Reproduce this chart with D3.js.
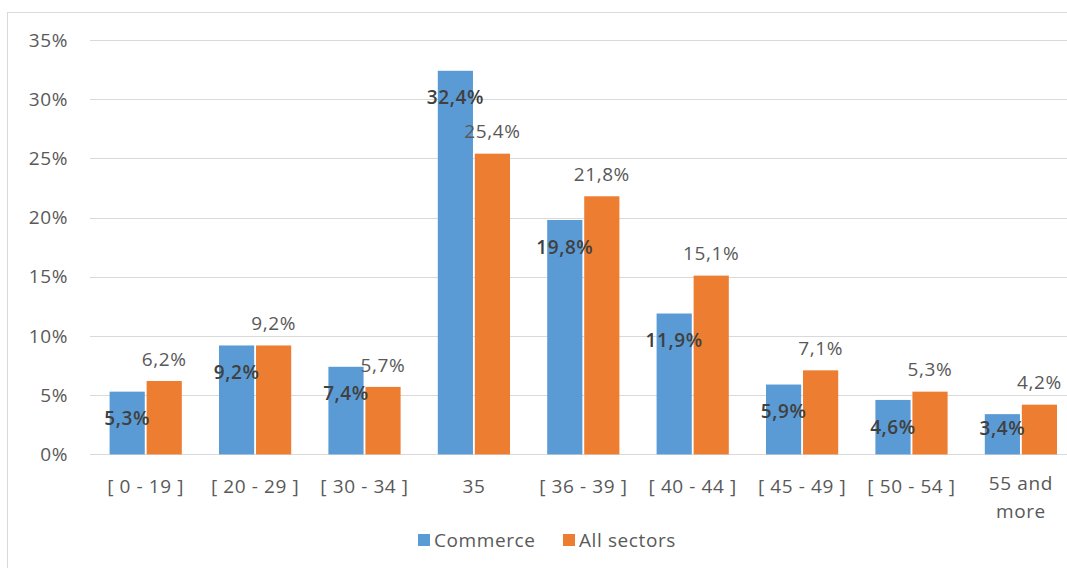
<!DOCTYPE html>
<html>
<head>
<meta charset="utf-8">
<script src="https://cdn.jsdelivr.net/npm/d3@7"></script>
<style>
  body { margin: 0; background: #fff; }
  svg { display: block; font-family: "Open Sans", "Noto Sans", sans-serif; }
  text { letter-spacing: 0.6px; }
</style>
</head>
<body>
<div id="chart"></div>
<script>
// data
const categories = ["[ 0 - 19 ]", "[ 20 - 29 ]", "[ 30 - 34 ]", "35", "[ 36 - 39 ]",
                    "[ 40 - 44 ]", "[ 45 - 49 ]", "[ 50 - 54 ]", "55 and more"];
const seriesNames = ["Commerce", "All sectors"];
const commerce = [5.3, 9.2, 7.4, 32.4, 19.8, 11.9, 5.9, 4.6, 3.4];
const allSectors = [6.2, 9.2, 5.7, 25.4, 21.8, 15.1, 7.1, 5.3, 4.2];
const yTicks = [0, 5, 10, 15, 20, 25, 30, 35];
const colors = ["#5B9BD5", "#ED7D31"];

const W = 1067, H = 568;
const FS = "19px";
const svg = d3.select("#chart").append("svg")
    .attr("width", W)
    .attr("height", H);

// chart frame
svg.append("rect")
    .attr("x", 7.5).attr("y", 12.5)
    .attr("width", W + 20).attr("height", H + 20)
    .attr("fill", "none")
    .attr("stroke", "#d9d9d9");

const x0 = d3.scaleBand()
    .domain(categories)
    .range([91, 1075.6])
    .paddingInner(0.34)
    .paddingOuter(0.17);

const x1 = d3.scaleBand()
    .domain(seriesNames)
    .range([0, x0.bandwidth()])
    .paddingInner(0.05);

const y = d3.scaleLinear().domain([0, 35]).range([454.4, 40]);

// gridlines
svg.append("g").selectAll("line")
    .data(yTicks)
    .join("line")
    .attr("x1", 90).attr("x2", W)
    .attr("y1", d => Math.round(y(d)) + 0.5)
    .attr("y2", d => Math.round(y(d)) + 0.5)
    .attr("stroke", "#d9d9d9");

// y axis labels
const yAxis = d3.axisLeft(y).tickValues(yTicks).tickFormat(d => d + "%").tickSize(0).tickPadding(0);
const yg = svg.append("g")
    .attr("transform", "translate(68,0)")
    .call(yAxis);
yg.select(".domain").remove();
yg.selectAll("text")
    .attr("fill", "#595959")
    .style("font-size", FS)
    .style("font-family", "'Open Sans', sans-serif");

// x axis labels
const xAxis = d3.axisBottom(x0).tickSize(0).tickPadding(0);
const xg = svg.append("g")
    .attr("transform", "translate(0,479)")
    .call(xAxis);
xg.select(".domain").remove();
xg.selectAll("text")
    .attr("fill", "#595959")
    .style("font-size", FS)
    .style("font-family", "'Open Sans', sans-serif")
    .each(function(d) {
        const t = d3.select(this);
        if (d === "55 and more") {
            t.text(null);
            t.append("tspan").attr("x", 0).attr("dy", "0.56em").text("55 and");
            t.append("tspan").attr("x", 0).attr("dy", "1.5em").text("more");
        }
    });

const rows = categories.map((c, i) => ({cat: c, values: [commerce[i], allSectors[i]]}));

const groups = svg.append("g").selectAll("g")
    .data(rows)
    .join("g")
    .attr("transform", d => "translate(" + x0(d.cat) + ",0)");

groups.selectAll("rect")
    .data(d => d.values.map((v, j) => ({name: seriesNames[j], value: v, j: j})))
    .join("rect")
    .attr("x", d => x1(d.name))
    .attr("width", x1.bandwidth())
    .attr("y", d => y(d.value))
    .attr("height", d => y(0) - y(d.value))
    .attr("fill", d => colors[d.j]);

const fmt = v => v.toFixed(1).replace(".", ",") + "%";

// Commerce labels: inside the bar, near the top
groups.append("text")
    .attr("x", x1("Commerce") + x1.bandwidth() / 2)
    .attr("y", d => Math.min(y(d.values[0]) + 27, y(0) - 26))
    .attr("dy", "0.35em")
    .attr("text-anchor", "middle")
    .attr("fill", "#404040")
    .style("font-size", FS)
    .style("font-weight", "600")
    .text(d => fmt(d.values[0]));

// All sectors labels: above the bar
groups.append("text")
    .attr("x", x1("All sectors") + x1.bandwidth() / 2)
    .attr("y", d => y(d.values[1]) - 22)
    .attr("dy", "0.35em")
    .attr("text-anchor", "middle")
    .attr("fill", "#595959")
    .style("font-size", FS)
    .text(d => fmt(d.values[1]));

// legend
const legend = svg.append("g").attr("transform", "translate(418,540)");
const items = legend.selectAll("g")
    .data(seriesNames)
    .join("g")
    .attr("transform", (d, i) => "translate(" + (i * 145) + ",0)");
items.append("rect")
    .attr("x", 0).attr("y", -6)
    .attr("width", 12).attr("height", 12)
    .attr("fill", (d, i) => colors[i]);
items.append("text")
    .attr("x", 16)
    .attr("dy", "0.35em")
    .attr("fill", "#595959")
    .style("font-size", FS)
    .text(d => d);
</script>
</body>
</html>
